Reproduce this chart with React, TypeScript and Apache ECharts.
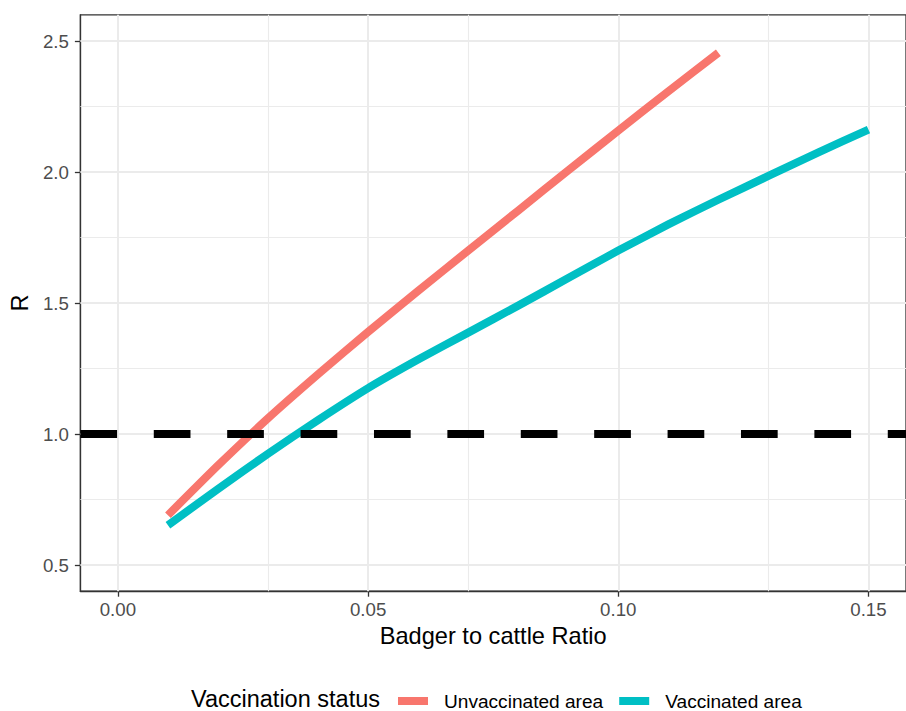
import React, { useEffect, useRef } from "react";
import * as echarts from "echarts";

// ---- data ----
const unvaccX = [0.01, 0.02, 0.03, 0.04, 0.05, 0.06, 0.07, 0.08, 0.09, 0.1, 0.11, 0.12];
const unvaccR = [0.69, 0.88, 1.06, 1.228, 1.39, 1.546, 1.7, 1.853, 2.006, 2.158, 2.308, 2.455];
const vaccX = [0.01, 0.02, 0.03, 0.04, 0.05, 0.06, 0.07, 0.08, 0.09, 0.1, 0.11, 0.12, 0.13, 0.14, 0.15];
const vaccR = [0.652, 0.79, 0.925, 1.053, 1.175, 1.284, 1.387, 1.49, 1.595, 1.7, 1.8, 1.894, 1.985, 2.075, 2.162];
const thresholdR = 1.0;

const xTicks = [0, 0.05, 0.1, 0.15];
const xMinor = [0.025, 0.075, 0.125];
const yTicks = [0.5, 1.0, 1.5, 2.0, 2.5];
const yMinor = [0.75, 1.25, 1.75, 2.25];

const seriesNames = ["Unvaccinated area", "Vaccinated area"];
const seriesColors = ["#F8766D", "#00BFC4"];
const legendTitle = "Vaccination status";
const xTitle = "Badger to cattle Ratio";
const yTitle = "R";

const FONT = "Liberation Sans, Arial, sans-serif";

export default function App() {
  const ref = useRef<HTMLDivElement>(null);

  useEffect(() => {
    document.body.style.margin = "0";
    if (!ref.current) return;
    const chart = echarts.init(ref.current, undefined, { renderer: "svg" });

    const gridLines = [
      ...xTicks.map((v) => ({ xAxis: v, lineStyle: { width: 2 } })),
      ...xMinor.map((v) => ({ xAxis: v, lineStyle: { width: 1.1 } })),
      ...yTicks.map((v) => ({ yAxis: v, lineStyle: { width: 2 } })),
      ...yMinor.map((v) => ({ yAxis: v, lineStyle: { width: 1.1 } })),
    ];

    const option: any = {
      animation: false,
      backgroundColor: "#ffffff",
      textStyle: { fontFamily: FONT },
      grid: {
        left: 77.5,
        top: 14.8,
        width: 838,
        height: 576.4,
        show: true,
        borderColor: "#333333",
        borderWidth: 1.3,
        backgroundColor: "transparent",
        containLabel: false,
      },
      xAxis: {
        type: "value",
        min: -0.0075,
        max: 0.1575,
        name: xTitle,
        nameLocation: "middle",
        nameGap: 31,
        nameTextStyle: { fontSize: 23.6, color: "#000000", fontFamily: FONT },
        axisLine: { show: true, onZero: false, lineStyle: { color: "#333333", width: 1.3 } },
        axisTick: {
          show: true,
          length: 5.5,
          inside: false,
          customValues: xTicks,
          lineStyle: { color: "#333333", width: 1.3 },
        },
        axisLabel: {
          customValues: xTicks,
          margin: 9,
          fontSize: 18.7,
          color: "#4D4D4D",
          fontFamily: FONT,
          formatter: (v: number) => v.toFixed(2),
        },
        splitLine: { show: false },
      },
      yAxis: {
        type: "value",
        min: 0.4,
        max: 2.6,
        name: yTitle,
        nameLocation: "middle",
        nameRotate: 90,
        nameGap: 44,
        nameTextStyle: { fontSize: 23.6, color: "#000000", fontFamily: FONT },
        axisLine: { show: true, onZero: false, lineStyle: { color: "#333333", width: 1.3 } },
        axisTick: {
          show: true,
          length: 5.5,
          inside: false,
          customValues: yTicks,
          lineStyle: { color: "#333333", width: 1.3 },
        },
        axisLabel: {
          customValues: yTicks,
          margin: 11.5,
          fontSize: 18.7,
          color: "#4D4D4D",
          fontFamily: FONT,
          formatter: (v: number) => v.toFixed(1),
        },
        splitLine: { show: false },
      },
      legend: {
        data: seriesNames,
        left: 398,
        top: 691,
        padding: 0,
        orient: "horizontal",
        icon: "rect",
        itemWidth: 30,
        itemHeight: 8,
        itemGap: 16,
        selectedMode: false,
        textStyle: {
          fontSize: 19.1,
          lineHeight: 20,
          color: "#000000",
          fontFamily: FONT,
          padding: [0, 0, 0, 11],
        },
      },
      graphic: [
        {
          type: "text",
          x: 191,
          y: 699.2,
          silent: true,
          style: {
            text: legendTitle,
            fill: "#000000",
            font: `23.5px ${FONT}`,
            lineHeight: 20,
            align: "left",
            verticalAlign: "middle",
          },
        },
      ],
      series: [
        {
          name: "__grid",
          type: "line",
          data: [],
          silent: true,
          markLine: {
            z: 1,
            silent: true,
            symbol: "none",
            label: { show: false },
            emphasis: { disabled: true },
            lineStyle: { color: "#EBEBEB", type: "solid", width: 2 },
            data: gridLines,
          },
        },
        {
          name: seriesNames[0],
          type: "line",
          z: 2,
          color: seriesColors[0],
          showSymbol: false,
          symbol: "none",
          smooth: 0.2,
          lineStyle: { width: 8, color: seriesColors[0], cap: "butt", join: "round" },
          itemStyle: { color: seriesColors[0] },
          data: unvaccX.map((x, i) => [x, unvaccR[i]]),
        },
        {
          name: seriesNames[1],
          type: "line",
          z: 3,
          color: seriesColors[1],
          showSymbol: false,
          symbol: "none",
          smooth: 0.2,
          lineStyle: { width: 8, color: seriesColors[1], cap: "butt", join: "round" },
          itemStyle: { color: seriesColors[1] },
          data: vaccX.map((x, i) => [x, vaccR[i]]),
        },
        {
          name: "__threshold",
          type: "line",
          data: [],
          silent: true,
          markLine: {
            z: 6,
            silent: true,
            symbol: "none",
            label: { show: false },
            emphasis: { disabled: true },
            lineStyle: { color: "#000000", type: [36.7, 36.7], dashOffset: 0, width: 8, cap: "butt" },
            data: [{ yAxis: thresholdR }],
          },
        },
      ],
    };

    chart.setOption(option);
    return () => {
      chart.dispose();
    };
  }, []);

  return (
    <div
      ref={ref}
      style={{ position: "fixed", left: 0, top: 0, width: 906, height: 711, background: "#fff" }}
    />
  );
}
